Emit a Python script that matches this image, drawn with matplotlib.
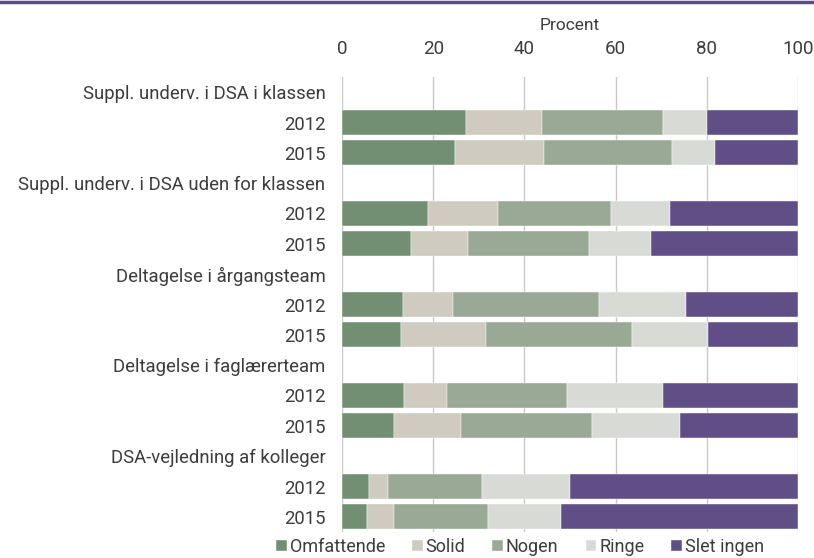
import numpy as np
import matplotlib.pyplot as plt
from matplotlib.lines import Line2D

plt.rcParams['font.family'] = ['Roboto', 'DejaVu Sans']

# Data
groups = ['Suppl. underv. i DSA i klassen', 'Suppl. underv. i DSA uden for klassen',
          'Deltagelse i årgangsteam', 'Deltagelse i faglærerteam', 'DSA-vejledning af kolleger']
years = ['2012', '2015']
series = ['Omfattende', 'Solid', 'Nogen', 'Ringe', 'Slet ingen']
omfattende = [27.3, 24.8, 18.9, 15.1, 13.4, 12.9, 13.6, 11.4, 5.9, 5.5]
solid = [16.6, 19.4, 15.4, 12.5, 10.9, 18.6, 9.5, 14.6, 4.1, 5.8]
nogen = [26.4, 28.1, 24.6, 26.6, 32.0, 32.2, 26.2, 28.8, 20.8, 20.7]
ringe = [9.7, 9.6, 13.0, 13.6, 19.1, 16.6, 21.2, 19.4, 19.1, 16.1]
slet_ingen = [20.0, 18.1, 28.1, 32.2, 24.6, 19.7, 29.5, 25.8, 50.1, 51.9]

colors = ['#728F73', '#CFCBC0', '#9AA996', '#D8DBD5', '#604E86']
text_color = '#3c3c3c'

# row layout: header, 2012, 2015 per group
labels = []
bar_rows = []
for i, g in enumerate(groups):
    labels.append(g)
    for y in years:
        bar_rows.append(len(labels))
        labels.append(y)

fig = plt.figure(figsize=(8.14, 5.58), dpi=100)
ax = fig.add_axes([342 / 814, 1 - 532 / 558, 456 / 814, 455 / 558])

left = np.zeros(len(bar_rows))
for name, vals, c in zip(series, [omfattende, solid, nogen, ringe, slet_ingen], colors):
    ax.barh(bar_rows, vals, left=left, height=0.82, color=c, label=name,
            edgecolor='white', linewidth=0.3, zorder=3)
    left += np.array(vals)

ax.set_xlim(0, 100)
ax.set_ylim(len(labels) - 0.5, -0.5)
ax.set_yticks(range(len(labels)))
ax.set_yticklabels(labels, fontsize=13.3, color=text_color)
ax.set_xticks(range(0, 101, 20))
ax.xaxis.tick_top()
ax.xaxis.set_label_position('top')
ax.set_xlabel('Procent', fontsize=12.5, color=text_color, labelpad=7)
ax.tick_params(axis='x', length=0, labelsize=13.5, labelcolor=text_color, pad=14)
ax.tick_params(axis='y', length=0, pad=12)
for s in ax.spines.values():
    s.set_visible(False)
ax.grid(axis='x', color='#C8C8C8', linewidth=1, zorder=0)
ax.set_axisbelow(True)

fig.legend(loc='center', bbox_to_anchor=(520 / 814, 1 - 547 / 558), ncol=5, frameon=False,
           fontsize=13, handlelength=0.6, handleheight=0.6, handletextpad=0.15,
           columnspacing=1.5, labelcolor=text_color, borderpad=0)

fig.add_artist(Line2D([0, 1], [1 - 2 / 558, 1 - 2 / 558], color='#5F4B85', linewidth=2.5,
                      transform=fig.transFigure))

plt.savefig('out.png', dpi=100)
